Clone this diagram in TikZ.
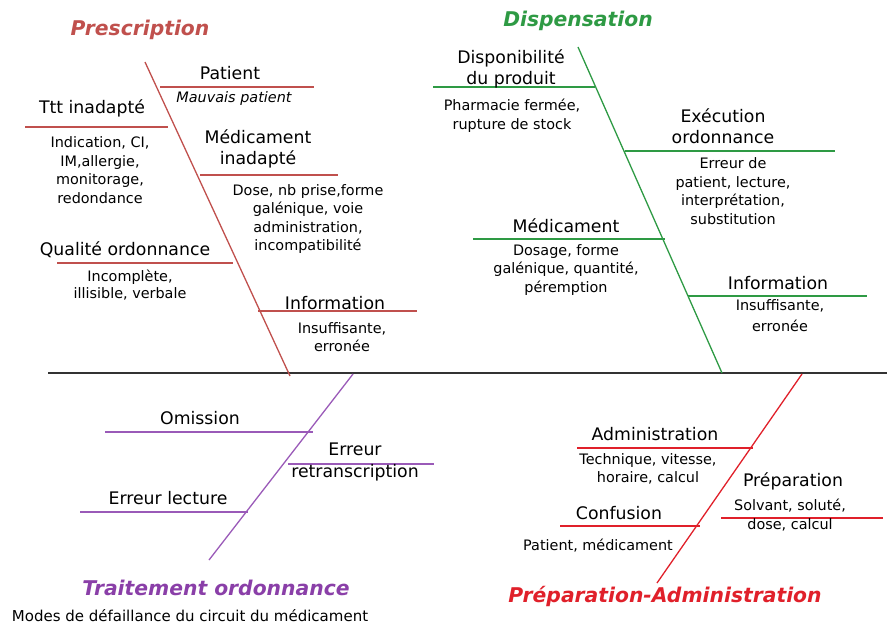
\documentclass[tikz,border=0pt]{standalone}
\usepackage{fontspec}
\setmainfont{DejaVu Sans}
\usepackage{tikz}
\usetikzlibrary{positioning}
\usepackage{xcolor}
\definecolor{presred}{HTML}{C0504D}
\definecolor{dispgreen}{HTML}{2E9A44}
\definecolor{traitpurple}{HTML}{9A5AB8}
\definecolor{traittitle}{HTML}{8A3FA8}
\definecolor{prepred}{HTML}{E0202A}

\begin{document}
\begin{tikzpicture}[x=1pt,y=-1pt,
  lbl/.style={inner sep=0pt,align=center,font=\fontsize{17.3}{21.5}\selectfont},
  sub/.style={inner sep=0pt,align=center,font=\fontsize{14.4}{18.6}\selectfont},
  ttl/.style={inner sep=0pt,font=\fontsize{20.3}{24}\selectfont\bfseries\itshape},
  bone/.style={line width=1.3pt}]

\useasboundingbox (0,0) rectangle (887,625);

\draw[line width=2.2pt,black!80] (48,373) -- (887,373);

\draw[bone,presred] (145,62) -- (290,376);
\draw[bone,presred] (160,87) -- (314,87);
\draw[bone,presred] (25,127) -- (168,127);
\draw[bone,presred] (200,175) -- (338,175);
\draw[bone,presred] (57,263) -- (233,263);
\draw[bone,presred] (258,311) -- (417,311);

\node[ttl,presred] (prescription) at (140,30) {Prescription};
\node[lbl] (patient) at (230,73) {Patient};
\node[sub,font=\fontsize{14.4}{18.6}\selectfont\itshape] (patient-sub) at (234,99) {Mauvais patient};
\node[lbl] (ttt) at (92,108) {Ttt inadapté};
\node[sub] (ttt-sub) at (100,170) {Indication, CI,\\IM,allergie,\\monitorage,\\redondance};
\node[lbl] (med-inad) at (258,149) {Médicament\\inadapté};
\node[sub] (med-inad-sub) at (308,219) {Dose, nb prise,forme\\galénique, voie\\administration,\\incompatibilité};
\node[lbl] (qualite) at (125,250) {Qualité ordonnance};
\node[sub,font=\fontsize{14.4}{17}\selectfont] (qualite-sub) at (130,285) {Incomplète,\\illisible, verbale};
\node[lbl] (pres-info) at (335,303) {Information};
\node[sub] (pres-info-sub) at (342,337) {Insuffisante,\\erronée};

\draw[bone,dispgreen] (578,47) -- (722,373);
\draw[bone,dispgreen] (433,87) -- (595,87);
\draw[bone,dispgreen] (625,151) -- (835,151);
\draw[bone,dispgreen] (473,239) -- (665,239);
\draw[bone,dispgreen] (688,296) -- (867,296);

\node[ttl,dispgreen] (dispensation) at (578,21) {Dispensation};
\node[lbl] (dispo) at (511,69) {Disponibilité\\du produit};
\node[sub] (dispo-sub) at (512,116) {Pharmacie fermée,\\rupture de stock};
\node[lbl] (execution) at (723,126) {Exécution\\ordonnance};
\node[sub] (execution-sub) at (733,191) {Erreur de\\patient, lecture,\\interprétation,\\substitution};
\node[lbl] (medicament) at (566,226) {Médicament};
\node[sub] (medicament-sub) at (566,270) {Dosage, forme\\galénique, quantité,\\péremption};
\node[lbl] (disp-info) at (778,283) {Information};
\node[sub,font=\fontsize{14.4}{21}\selectfont] (disp-info-sub) at (780,316) {Insuffisante,\\erronée};

\draw[bone,traitpurple] (353,374) -- (209,560);
\draw[bone,traitpurple] (105,432) -- (313,432);
\draw[bone,traitpurple] (288,464) -- (434,464);
\draw[bone,traitpurple] (80,512) -- (248,512);

\node[ttl,traittitle] (traitement) at (216,588) {Traitement ordonnance};
\node[sub,font=\fontsize{15}{18}\selectfont] (footer) at (190,616) {Modes de défaillance du circuit du médicament};
\node[lbl] (omission) at (200,418) {Omission};
\node[lbl] (retrans) at (355,462) {Erreur\\retranscription};
\node[lbl] (lecture) at (168,498) {Erreur lecture};

\draw[bone,prepred] (802,374) -- (657,583);
\draw[bone,prepred] (577,448) -- (753,448);
\draw[bone,prepred] (721,518) -- (883,518);
\draw[bone,prepred] (560,526) -- (700,526);

\node[ttl,prepred] (prep-admin) at (665,596) {Préparation-Administration};
\node[lbl] (administration) at (655,434) {Administration};
\node[sub] (administration-sub) at (648,469) {Technique, vitesse,\\horaire, calcul};
\node[lbl] (preparation) at (793,481) {Préparation};
\node[sub] (preparation-sub) at (790,515) {Solvant, soluté,\\dose, calcul};
\node[lbl] (confusion) at (619,513) {Confusion};
\node[sub] (confusion-sub) at (598,546) {Patient, médicament};

\end{tikzpicture}
\end{document}
